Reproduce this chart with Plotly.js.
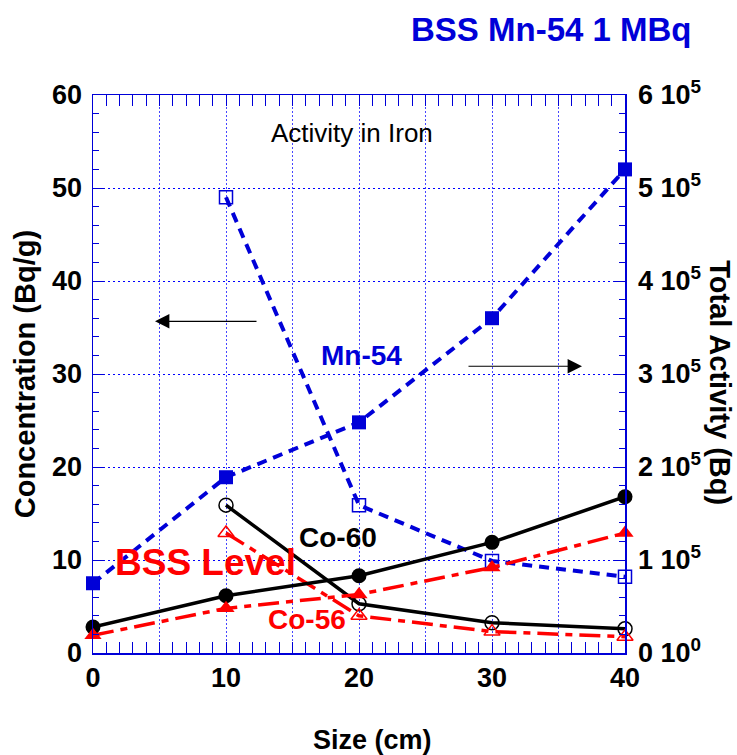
<!DOCTYPE html>
<html>
<head>
<meta charset="utf-8">
<script src="https://cdn.plot.ly/plotly-3.0.1.min.js"></script>
<style>
  html, body { margin: 0; padding: 0; background: #ffffff; }
  #chart { width: 737px; height: 755px; }
</style>
</head>
<body>
<div id="chart"></div>
<script>
// ---- data ----
const sizes = [0, 10, 20, 30, 40];                       // Size (cm)
const mn54Total = [75000, 189000, 248000, 360000, 520000]; // Total activity (Bq), right axis
const mn54Conc  = [null, 49.0, 15.9, 9.9, 8.2];           // Concentration (Bq/g), left axis
const co60Total = [28000, 61500, 83000, 119000, 168000];
const co60Conc  = [null, 15.9, 5.3, 3.25, 2.6];
const co56Total = [19000, 48000, 63000, 92000, 129000];
const co56Conc  = [null, 12.9, 4.0, 2.3, 1.75];

const xTickVals = [0, 5, 10, 15, 20, 25, 30, 35, 40];
const xTickText = ['0', '', '10', '', '20', '', '30', '', '40'];
const y2TickVals = [0, 100000, 200000, 300000, 400000, 500000, 600000];
const y2TickText = ['0 10<sup>0</sup>', '1 10<sup>5</sup>', '2 10<sup>5</sup>', '3 10<sup>5</sup>',
                    '4 10<sup>5</sup>', '5 10<sup>5</sup>', '6 10<sup>5</sup>'];

// ---- styles ----
const BLUE = '#0000d8';
const RED = '#ff0000';
const BLACK = '#000000';
const FONT = 'Liberation Sans, Arial, sans-serif';
const mnDash = '10px,7px';
const coDash = '21px,7px,7px,7px';

const traces = [
  { x: sizes, y: mn54Conc, yaxis: 'y', mode: 'lines+markers', cliponaxis: false,
    line: { color: BLUE, width: 4, dash: mnDash },
    marker: { symbol: 'square-open', size: 13, color: BLUE, line: { width: 1.5, color: BLUE } } },
  { x: sizes, y: co60Conc, yaxis: 'y', mode: 'lines+markers', cliponaxis: false,
    line: { color: BLACK, width: 3.5 },
    marker: { symbol: 'circle-open', size: 14, color: BLACK, line: { width: 1.5, color: BLACK } } },
  { x: sizes, y: co56Conc, yaxis: 'y', mode: 'lines+markers', cliponaxis: false,
    line: { color: RED, width: 3.5, dash: coDash },
    marker: { symbol: 'triangle-up-open', size: 14, color: RED, line: { width: 1.5, color: RED } } },
  { x: sizes, y: mn54Total, yaxis: 'y2', mode: 'lines+markers', cliponaxis: false,
    line: { color: BLUE, width: 4, dash: mnDash },
    marker: { symbol: 'square', size: 14, color: BLUE } },
  { x: sizes, y: co60Total, yaxis: 'y2', mode: 'lines+markers', cliponaxis: false,
    line: { color: BLACK, width: 3.5 },
    marker: { symbol: 'circle', size: 15, color: BLACK } },
  { x: sizes, y: co56Total, yaxis: 'y2', mode: 'lines+markers', cliponaxis: false,
    line: { color: RED, width: 3.5, dash: coDash },
    marker: { symbol: 'triangle-up', size: 15, color: RED } }
];

const tickFont = { family: FONT, size: 27, color: BLACK, weight: 'bold' };

const L = 93, R = 625, T = 94.5, B = 653;
const px = v => (v - L) / (R - L);
const py = v => (B - v) / (B - T);

const layout = {
  width: 737, height: 755,
  margin: { l: L, r: 737 - R, t: T, b: 755 - B, pad: 0 },
  paper_bgcolor: '#ffffff', plot_bgcolor: '#ffffff',
  showlegend: false,
  xaxis: {
    range: [0, 40], tickvals: xTickVals, ticktext: xTickText,
    ticks: 'inside', ticklen: 11, tickwidth: 1, tickcolor: BLUE,
    showline: true, linecolor: BLUE, linewidth: 1.5, mirror: 'allticks',
    showgrid: true, gridcolor: '#4646ff', griddash: '2px,2px', gridwidth: 1,
    zeroline: false, tickfont: tickFont, ticklabelstandoff: 0,
    minor: { dtick: 1, ticks: 'inside', ticklen: 6, tickcolor: BLUE, showgrid: false }
  },
  yaxis: {
    range: [0, 60], dtick: 10,
    ticks: 'inside', ticklen: 11, tickcolor: BLUE,
    showline: true, linecolor: BLUE, linewidth: 1.5,
    showgrid: true, gridcolor: '#0000ff', griddash: '2px,3px', gridwidth: 1,
    zeroline: false, tickfont: tickFont, ticklabelstandoff: 4,
    minor: { dtick: 2, ticks: 'inside', ticklen: 6, tickcolor: BLUE, showgrid: false }
  },
  yaxis2: {
    overlaying: 'y', side: 'right', range: [0, 600000],
    tickvals: y2TickVals, ticktext: y2TickText,
    ticks: 'inside', ticklen: 11, tickcolor: BLUE,
    showline: true, linecolor: BLUE, linewidth: 1.5,
    showgrid: false, zeroline: false, tickfont: tickFont, ticklabelstandoff: 6,
    minor: { dtick: 20000, ticks: 'inside', ticklen: 6, tickcolor: BLUE, showgrid: false }
  },
  annotations: [
    { xref: 'paper', yref: 'paper', x: px(551), y: py(29), text: 'BSS Mn-54 1 MBq', showarrow: false,
      font: { family: FONT, size: 33, color: BLUE, weight: 'bold' }, xanchor: 'center', yanchor: 'middle' },
    { xref: 'paper', yref: 'paper', x: px(352), y: py(133), text: 'Activity in Iron', showarrow: false,
      font: { family: FONT, size: 26, color: BLACK }, xanchor: 'center', yanchor: 'middle' },
    { xref: 'paper', yref: 'paper', x: px(361), y: py(355), text: 'Mn-54', showarrow: false,
      font: { family: FONT, size: 28, color: BLUE, weight: 'bold' }, xanchor: 'center', yanchor: 'middle' },
    { xref: 'paper', yref: 'paper', x: px(338), y: py(537), text: 'Co-60', showarrow: false,
      font: { family: FONT, size: 28, color: BLACK, weight: 'bold' }, xanchor: 'center', yanchor: 'middle' },
    { xref: 'paper', yref: 'paper', x: px(307), y: py(619), text: 'Co-56', showarrow: false,
      font: { family: FONT, size: 28, color: RED, weight: 'bold' }, xanchor: 'center', yanchor: 'middle' },
    { xref: 'paper', yref: 'paper', x: px(205), y: py(562), text: 'BSS Level', showarrow: false,
      font: { family: FONT, size: 37, color: RED, weight: 'bold' }, xanchor: 'center', yanchor: 'middle' },
    { xref: 'paper', yref: 'paper', x: px(372), y: py(740), text: 'Size (cm)', showarrow: false,
      font: { family: FONT, size: 27, color: BLACK, weight: 'bold' }, xanchor: 'center', yanchor: 'middle' },
    { xref: 'paper', yref: 'paper', x: px(25), y: py(374), text: 'Concentration (Bq/g)', showarrow: false, textangle: -90,
      font: { family: FONT, size: 29, color: BLACK, weight: 'bold' }, xanchor: 'center', yanchor: 'middle' },
    { xref: 'paper', yref: 'paper', x: px(720), y: py(382), text: 'Total Activity (Bq)', showarrow: false, textangle: 90,
      font: { family: FONT, size: 29, color: BLACK, weight: 'bold' }, xanchor: 'center', yanchor: 'middle' },
    // arrows
    { xref: 'paper', yref: 'paper', x: px(155), y: py(321), axref: 'pixel', ayref: 'pixel', ax: 103, ay: 0,
      text: '', showarrow: true, arrowhead: 2, arrowsize: 2.4, arrowwidth: 1.2, arrowcolor: BLACK },
    { xref: 'paper', yref: 'paper', x: px(582), y: py(366), axref: 'pixel', ayref: 'pixel', ax: -115, ay: 0,
      text: '', showarrow: true, arrowhead: 2, arrowsize: 2.4, arrowwidth: 1.2, arrowcolor: BLACK }
  ]
};

Plotly.newPlot('chart', traces, layout, { staticPlot: true, displayModeBar: false });
</script>
</body>
</html>
